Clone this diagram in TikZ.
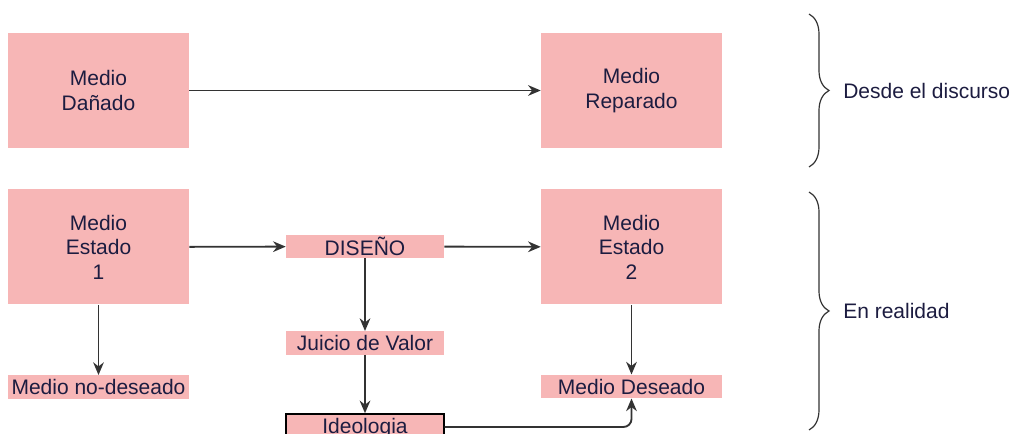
\documentclass[tikz,border=0pt]{standalone}
\usepackage{fontspec}
\setmainfont{Liberation Sans}
\usetikzlibrary{arrows.meta,decorations.pathreplacing}
\definecolor{rosa}{HTML}{F7B6B6}
\definecolor{tinta}{HTML}{1C1C40}
\definecolor{linea}{HTML}{333333}

\begin{document}
\begin{tikzpicture}[
	x=0.75pt,
	y=-0.75pt,
	font=\fontsize{15.75}{18.4}\selectfont,
	text=tinta,
	box/.style={fill=rosa,minimum width=135.75pt,minimum height=86.25pt,inner sep=0pt,align=center},
	tag/.style={fill=rosa,minimum width=118.5pt,minimum height=17.6pt,inner sep=0pt},
	arr/.style={draw=linea,line width=1.4pt,-{Stealth[length=9.5pt,width=8pt]}},
	llave/.style={draw=linea,line width=0.9pt,decorate,decoration={brace,amplitude=15pt}}
	]
	\useasboundingbox (0,0) rectangle (1011,434);
	\clip (0,0) rectangle (1011,434);
	% desde el discurso
	\node[box] (danado) at (98.5,90.5) {Medio\\Dañado};
	\node[box] (reparado) at (631.5,90.5) {Medio\\Reparado};
	\draw[arr] (danado) to (reparado);
	% en realidad
	\node[box] (estado1) at (98.5,247) {Medio\\Estado\\1};
	\node[box] (estado2) at (631.5,247) {Medio\\Estado\\2};
	\node[tag] (diseno) at (365,246.5) {DISEÑO};
	\node[tag] (juicio) at (365,343) {Juicio de Valor};
	\node[tag,minimum width=135.75pt] (nodeseado) at (98.5,387) {Medio no-deseado};
	\node[tag,minimum width=135.75pt] (deseado) at (631.5,386.5) {Medio Deseado};
	\node[tag,draw=black,line width=1.1pt,minimum height=21pt] (ideo) at (365,428) {Ideologia};
	\draw[arr] (estado1) to (diseno);
	\draw[arr] (diseno) to (estado2);
	\draw[arr] (diseno) to (juicio);
	\draw[arr] (juicio) to (ideo);
	\draw[arr] (estado1) to (nodeseado);
	\draw[arr] (estado2) to (deseado);
	\draw[arr,rounded corners=6pt] (ideo.east |- 0,427) -| (deseado.south);
	% llaves
	\draw[llave] (809,14) -- (809,167);
	\draw[llave] (809,192) -- (809,430);
	\node[anchor=west,inner sep=0pt] (discurso) at (843,91) {Desde el discurso};
	\node[anchor=west,inner sep=0pt] (realidad) at (843,311) {En realidad};
\end{tikzpicture}
\end{document}
